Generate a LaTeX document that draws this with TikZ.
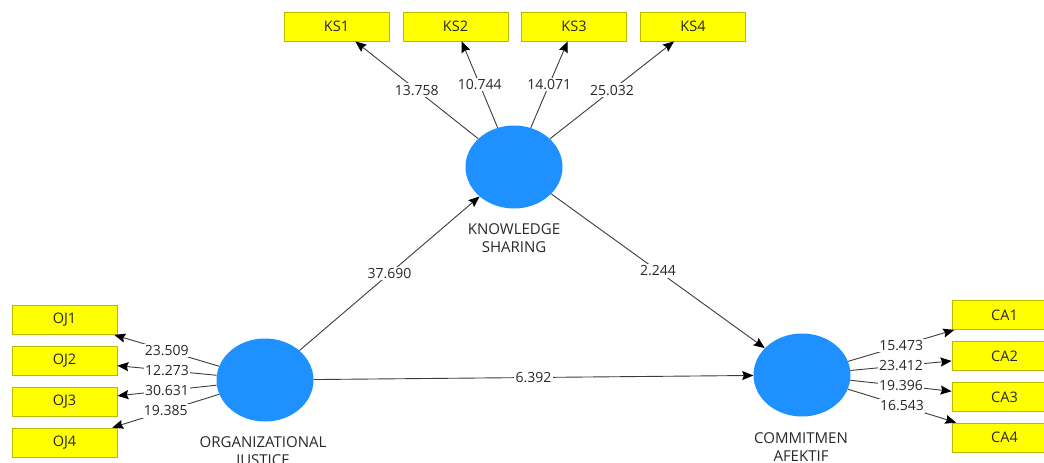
\documentclass[tikz,border=0pt]{standalone}
\usepackage{fontspec}
\setmainfont{Open Sans}
\usetikzlibrary{shapes.geometric,arrows.meta}
\definecolor{latent}{RGB}{30,144,255}
\definecolor{indfill}{RGB}{255,255,0}
\definecolor{inddraw}{RGB}{185,185,0}
\definecolor{edge}{RGB}{60,60,60}
\definecolor{txt}{RGB}{40,40,40}
\tikzset{
  construct/.style={ellipse, fill=latent, minimum width=97pt, minimum height=83pt, inner sep=0pt},
  indicator/.style={rectangle, fill=indfill, draw=inddraw, line width=0.8pt, minimum width=105pt, minimum height=29pt, inner sep=0pt, text=txt, font=\fontsize{14.5}{16}\selectfont},
  cname/.style={align=center, text=txt, font=\fontsize{15}{18}\selectfont},
  link/.style={draw=edge, line width=0.9pt, -{Stealth[length=11pt,width=9pt,inset=1.5pt,color=black]}},
  coef/.style={fill=white, inner sep=1.5pt, text=txt, font=\fontsize{14}{16}\selectfont}
}
\begin{document}
\begin{tikzpicture}[x=1pt,y=-1pt]
\useasboundingbox (0,0) rectangle (1044,463);

% latent constructs
\node[construct] (ks) at (514,167) {};
\node[construct] (oj) at (265,380) {};
\node[construct] (ca) at (802,375) {};

\node[cname] (ksname) at (514,238) {KNOWLEDGE\\SHARING};
\node[cname] (ojname) at (263,452) {ORGANIZATIONAL\\JUSTICE};
\node[cname] (caname) at (801,447) {COMMITMEN\\AFEKTIF};

% indicators
\node[indicator] (ks1) at (336.5,26.5) {KS1};
\node[indicator] (ks2) at (455.5,26.5) {KS2};
\node[indicator] (ks3) at (574,26.5) {KS3};
\node[indicator] (ks4) at (693,26.5) {KS4};

\node[indicator] (oj1) at (64.5,320) {OJ1};
\node[indicator] (oj2) at (64.5,360.5) {OJ2};
\node[indicator] (oj3) at (64.5,401.5) {OJ3};
\node[indicator] (oj4) at (64.5,442.5) {OJ4};

\node[indicator] (ca1) at (1004.5,315) {CA1};
\node[indicator] (ca2) at (1004.5,356) {CA2};
\node[indicator] (ca3) at (1004.5,397) {CA3};
\node[indicator] (ca4) at (1004.5,437.5) {CA4};

% outer loadings
\draw[link] (ks) -- node[coef] {13.758} (ks1);
\draw[link] (ks) -- node[coef] {10.744} (ks2);
\draw[link] (ks) -- node[coef] {14.071} (ks3);
\draw[link] (ks) -- node[coef] {25.032} (ks4);

\draw[link] (oj) -- node[coef] {23.509} (oj1);
\draw[link] (oj) -- node[coef] {12.273} (oj2);
\draw[link] (oj) -- node[coef] {30.631} (oj3);
\draw[link] (oj) -- node[coef] {19.385} (oj4);

\draw[link] (ca) -- node[coef] {15.473} (ca1);
\draw[link] (ca) -- node[coef] {23.412} (ca2);
\draw[link] (ca) -- node[coef] {19.396} (ca3);
\draw[link] (ca) -- node[coef] {16.543} (ca4);

% structural paths
\draw[link] (oj) -- node[coef] {37.690} (ks);
\draw[link] (ks) -- node[coef] {2.244} (ca);
\draw[link] (oj) -- node[coef] {6.392} (ca);
\end{tikzpicture}
\end{document}
